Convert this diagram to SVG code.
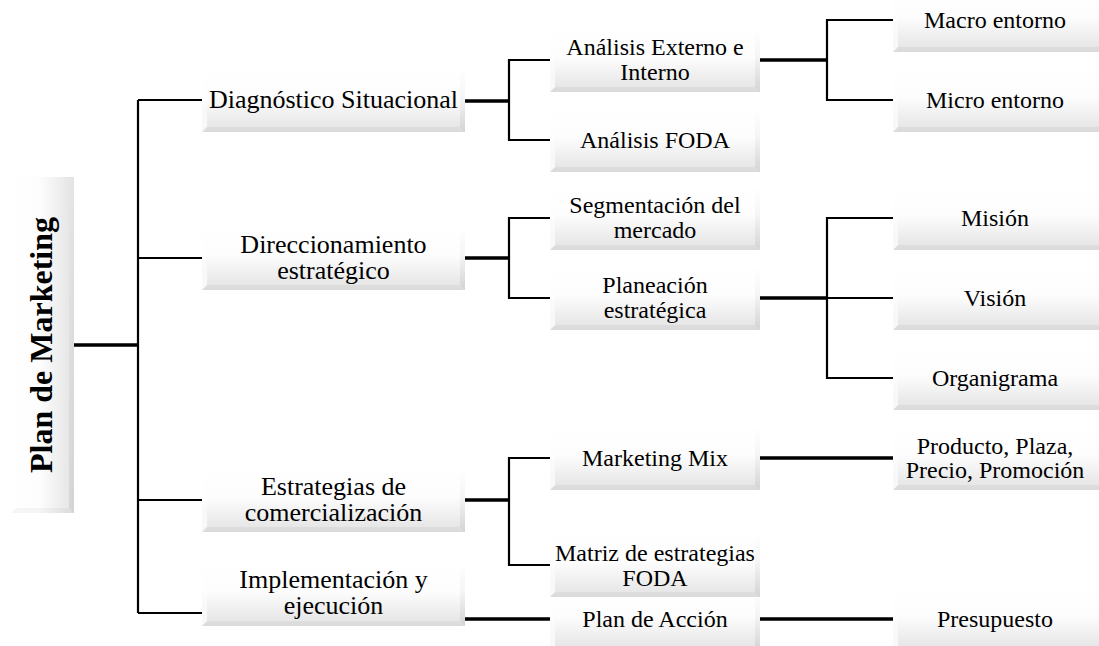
<svg xmlns="http://www.w3.org/2000/svg" width="1099" height="646" viewBox="0 0 1099 646">
<style>
.bg{fill:#fff}
.box{fill:url(#gBox)}
.root{fill:url(#gRoot)}
.bl{fill:url(#gBevL)}
.br{fill:url(#gBevR)}
.bb{fill:#000;opacity:.035}
.t{font-family:"Liberation Serif","Times New Roman",serif;fill:#000;text-anchor:middle}
.t1{font-size:26px}
.t2{font-size:24px}
.t0{font-size:32px;font-weight:bold}
.c{stroke:#000;stroke-width:2.2;fill:none}
.k{stroke:#000;stroke-width:3.6;fill:none}
</style>
<defs>
<linearGradient id="gBox" x1="0" y1="0" x2="0" y2="1">
<stop offset="0" stop-color="#fff"/>
<stop offset="0.45" stop-color="#fdfdfd"/>
<stop offset="1" stop-color="#e3e3e3"/>
</linearGradient>
<linearGradient id="gRoot" x1="0" y1="0" x2="1" y2="0">
<stop offset="0" stop-color="#fff"/>
<stop offset="0.45" stop-color="#fdfdfd"/>
<stop offset="1" stop-color="#e3e3e3"/>
</linearGradient>
<linearGradient id="gBevL" x1="0" y1="0" x2="0" y2="1">
<stop offset="0" stop-color="#fff" stop-opacity="0"/>
<stop offset="1" stop-color="#fff" stop-opacity="0.8"/>
</linearGradient>
<linearGradient id="gBevR" x1="0" y1="0" x2="0" y2="1">
<stop offset="0" stop-color="#000" stop-opacity="0"/>
<stop offset="1" stop-color="#000" stop-opacity="0.07"/>
</linearGradient>
</defs>
<rect class="bg" width="1099" height="646"/>

<g id="connectors">
<path class="k" d="M74 345H138"/>
<path class="c" d="M138 100V613M138 100H202M138 258H202M138 500H202M138 613H202"/>
<path class="k" d="M465 101H509M465 258H509M465 500H509M465 619H550"/>
<path class="c" d="M550 60H509V140H550M550 218H509V298H550M550 458H509V565H550"/>
<path class="k" d="M760 60H827M760 298H827M760 458H893M760 619H893"/>
<path class="c" d="M893 20H827V100H893M893 218H827V378H893M827 298H893"/>
</g>

<g id="n-root">
<rect class="root" x="11" y="177" width="63" height="336"/>
<polygon class="bb" points="11,513 16,508 69,508 74,513"/>
<polygon class="br" points="74,177 69,182 69,508 74,513"/>
<text class="t t0" transform="translate(52,345) rotate(-90)">Plan de Marketing</text>
</g>

<g id="n-diag">
<rect class="box" x="202" y="68" width="263" height="64"/>
<polygon class="bl" points="202,68 207,73 207,127 202,132"/>
<polygon class="br" points="465,68 460,73 460,127 465,132"/>
<polygon class="bb" points="202,132 207,127 460,127 465,132"/>
<text class="t t1" x="333.5" y="108">Diagnóstico Situacional</text>
</g>
<g id="n-direc">
<rect class="box" x="202" y="226" width="263" height="64"/>
<polygon class="bl" points="202,226 207,231 207,285 202,290"/>
<polygon class="br" points="465,226 460,231 460,285 465,290"/>
<polygon class="bb" points="202,290 207,285 460,285 465,290"/>
<text class="t t1" x="333.5" y="253">Direccionamiento</text>
<text class="t t1" x="333.5" y="279">estratégico</text>
</g>
<g id="n-estr">
<rect class="box" x="202" y="468" width="263" height="64"/>
<polygon class="bl" points="202,468 207,473 207,527 202,532"/>
<polygon class="br" points="465,468 460,473 460,527 465,532"/>
<polygon class="bb" points="202,532 207,527 460,527 465,532"/>
<text class="t t1" x="333.5" y="495">Estrategias de</text>
<text class="t t1" x="333.5" y="521">comercialización</text>
</g>
<g id="n-impl">
<rect class="box" x="202" y="562" width="263" height="64"/>
<polygon class="bl" points="202,562 207,567 207,621 202,626"/>
<polygon class="br" points="465,562 460,567 460,621 465,626"/>
<polygon class="bb" points="202,626 207,621 460,621 465,626"/>
<text class="t t1" x="333.5" y="588">Implementación y</text>
<text class="t t1" x="333.5" y="614">ejecución</text>
</g>

<g id="n-aei">
<rect class="box" x="550" y="28" width="210" height="64"/>
<polygon class="bl" points="550,28 555,33 555,87 550,92"/>
<polygon class="br" points="760,28 755,33 755,87 760,92"/>
<polygon class="bb" points="550,92 555,87 755,87 760,92"/>
<text class="t t2" x="655" y="55">Análisis Externo e</text>
<text class="t t2" x="655" y="80">Interno</text>
</g>
<g id="n-foda">
<rect class="box" x="550" y="108" width="210" height="64"/>
<polygon class="bl" points="550,108 555,113 555,167 550,172"/>
<polygon class="br" points="760,108 755,113 755,167 760,172"/>
<polygon class="bb" points="550,172 555,167 755,167 760,172"/>
<text class="t t2" x="655" y="148">Análisis FODA</text>
</g>
<g id="n-segm">
<rect class="box" x="550" y="186" width="210" height="64"/>
<polygon class="bl" points="550,186 555,191 555,245 550,250"/>
<polygon class="br" points="760,186 755,191 755,245 760,250"/>
<polygon class="bb" points="550,250 555,245 755,245 760,250"/>
<text class="t t2" x="655" y="213">Segmentación del</text>
<text class="t t2" x="655" y="238">mercado</text>
</g>
<g id="n-plan">
<rect class="box" x="550" y="266" width="210" height="64"/>
<polygon class="bl" points="550,266 555,271 555,325 550,330"/>
<polygon class="br" points="760,266 755,271 755,325 760,330"/>
<polygon class="bb" points="550,330 555,325 755,325 760,330"/>
<text class="t t2" x="655" y="293">Planeación</text>
<text class="t t2" x="655" y="318">estratégica</text>
</g>
<g id="n-mix">
<rect class="box" x="550" y="426" width="210" height="64"/>
<polygon class="bl" points="550,426 555,431 555,485 550,490"/>
<polygon class="br" points="760,426 755,431 755,485 760,490"/>
<polygon class="bb" points="550,490 555,485 755,485 760,490"/>
<text class="t t2" x="655" y="466">Marketing Mix</text>
</g>
<g id="n-accion">
<rect class="box" x="550" y="587" width="210" height="64"/>
<polygon class="bl" points="550,587 555,592 555,646 550,651"/>
<polygon class="br" points="760,587 755,592 755,646 760,651"/>
<text class="t t2" x="655" y="627">Plan de Acción</text>
</g>
<g id="n-matriz">
<rect class="box" x="550" y="533" width="210" height="64"/>
<polygon class="bl" points="550,533 555,538 555,592 550,597"/>
<polygon class="br" points="760,533 755,538 755,592 760,597"/>
<polygon class="bb" points="550,597 555,592 755,592 760,597"/>
<text class="t t2" x="655" y="561">Matriz de estrategias</text>
<text class="t t2" x="655" y="586">FODA</text>
</g>

<g id="n-macro">
<rect class="box" x="893" y="-12" width="206" height="64"/>
<polygon class="bl" points="893,-12 898,-7 898,47 893,52"/>
<polygon class="bb" points="893,52 898,47 1099,47 1099,52"/>
<text class="t t2" x="995" y="28">Macro entorno</text>
</g>
<g id="n-micro">
<rect class="box" x="893" y="68" width="206" height="64"/>
<polygon class="bl" points="893,68 898,73 898,127 893,132"/>
<polygon class="bb" points="893,132 898,127 1099,127 1099,132"/>
<text class="t t2" x="995" y="108">Micro entorno</text>
</g>
<g id="n-mision">
<rect class="box" x="893" y="186" width="206" height="64"/>
<polygon class="bl" points="893,186 898,191 898,245 893,250"/>
<polygon class="bb" points="893,250 898,245 1099,245 1099,250"/>
<text class="t t2" x="995" y="226">Misión</text>
</g>
<g id="n-vision">
<rect class="box" x="893" y="266" width="206" height="64"/>
<polygon class="bl" points="893,266 898,271 898,325 893,330"/>
<polygon class="bb" points="893,330 898,325 1099,325 1099,330"/>
<text class="t t2" x="995" y="306">Visión</text>
</g>
<g id="n-organi">
<rect class="box" x="893" y="346" width="206" height="64"/>
<polygon class="bl" points="893,346 898,351 898,405 893,410"/>
<polygon class="bb" points="893,410 898,405 1099,405 1099,410"/>
<text class="t t2" x="995" y="386">Organigrama</text>
</g>
<g id="n-4p">
<rect class="box" x="893" y="426" width="206" height="64"/>
<polygon class="bl" points="893,426 898,431 898,485 893,490"/>
<polygon class="bb" points="893,490 898,485 1099,485 1099,490"/>
<text class="t t2" x="995" y="454">Producto, Plaza,</text>
<text class="t t2" x="995" y="478">Precio, Promoción</text>
</g>
<g id="n-presu">
<rect class="box" x="893" y="587" width="206" height="64"/>
<polygon class="bl" points="893,587 898,592 898,646 893,651"/>
<text class="t t2" x="995" y="627">Presupuesto</text>
</g>
</svg>
